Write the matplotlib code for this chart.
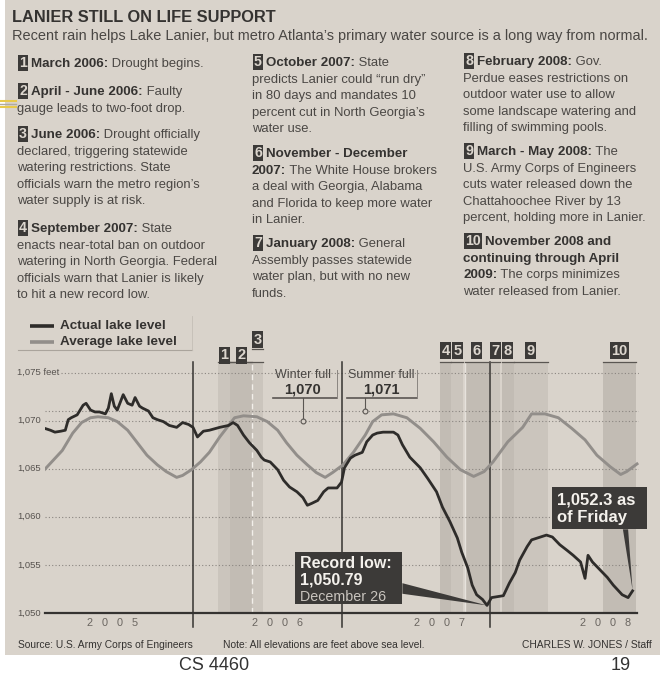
import matplotlib
matplotlib.use('Agg')
import matplotlib.pyplot as plt
from matplotlib.patches import Rectangle, Polygon
from matplotlib import font_manager

# ---------------- data ----------------
actual_years = [2005.00, 2005.04, 2005.07, 2005.11, 2005.14, 2005.16, 2005.18, 2005.22, 2005.24, 2005.26,
                2005.28, 2005.31, 2005.34, 2005.37, 2005.41, 2005.43, 2005.45, 2005.47, 2005.49, 2005.53,
                2005.56, 2005.59, 2005.61, 2005.64, 2005.66, 2005.70, 2005.73, 2005.76, 2005.80, 2005.84,
                2005.89, 2005.93, 2005.97, 2006.00, 2006.03, 2006.07, 2006.11, 2006.18, 2006.24, 2006.27,
                2006.30, 2006.34, 2006.38, 2006.43, 2006.46, 2006.48, 2006.52, 2006.57, 2006.61, 2006.65,
                2006.70, 2006.74, 2006.77, 2006.80, 2006.84, 2006.88, 2006.91, 2006.97, 2007.00, 2007.02,
                2007.06, 2007.09, 2007.14, 2007.17, 2007.21, 2007.24, 2007.28, 2007.35, 2007.38, 2007.41,
                2007.46, 2007.53, 2007.58, 2007.64, 2007.68, 2007.73, 2007.78, 2007.81, 2007.85, 2007.88,
                2007.91, 2007.95, 2007.98, 2008.01, 2008.05, 2008.09, 2008.13, 2008.17, 2008.20, 2008.25,
                2008.28, 2008.34, 2008.38, 2008.42, 2008.47, 2008.52, 2008.56, 2008.61, 2008.64, 2008.66,
                2008.69, 2008.74, 2008.79, 2008.83, 2008.89, 2008.93, 2008.96]
actual_levels = [1069.2, 1069.0, 1068.8, 1068.9, 1069.0, 1070.1, 1070.3, 1070.6, 1071.1, 1071.6,
                 1071.8, 1071.1, 1070.9, 1070.9, 1070.7, 1071.3, 1072.8, 1071.5, 1071.1, 1072.7,
                 1071.8, 1071.6, 1072.4, 1071.5, 1071.3, 1071.0, 1070.3, 1070.1, 1069.9, 1069.5,
                 1069.3, 1069.8, 1069.6, 1069.3, 1068.3, 1068.9, 1069.0, 1069.3, 1069.5, 1069.8,
                 1069.5, 1068.5, 1067.7, 1066.9, 1066.2, 1065.9, 1065.7, 1064.9, 1063.8, 1063.1,
                 1062.6, 1062.0, 1061.2, 1061.4, 1061.7, 1062.6, 1063.0, 1063.0, 1063.6, 1065.1,
                 1066.1, 1066.4, 1066.7, 1067.8, 1068.5, 1068.7, 1068.8, 1068.8, 1068.5, 1067.5,
                 1066.2, 1065.1, 1064.0, 1062.6, 1061.0, 1059.5, 1057.8, 1056.3, 1054.7, 1052.9,
                 1051.9, 1051.4, 1050.79, 1051.6, 1051.7, 1051.8, 1053.1, 1054.2, 1055.5, 1056.9,
                 1057.6, 1057.9, 1058.1, 1057.9, 1057.1, 1056.5, 1056.0, 1055.3, 1053.6, 1056.0,
                 1055.3, 1054.5, 1053.7, 1052.9, 1051.9, 1051.6, 1052.3]

average_years = [2005.00, 2005.06, 2005.12, 2005.19, 2005.25, 2005.31, 2005.36, 2005.43, 2005.49, 2005.56,
                 2005.62, 2005.69, 2005.76, 2005.82, 2005.89, 2005.93, 2005.99, 2006.05, 2006.11, 2006.18,
                 2006.24, 2006.28, 2006.34, 2006.43, 2006.50, 2006.57, 2006.63, 2006.70, 2006.77, 2006.83,
                 2006.89, 2006.94, 2007.01, 2007.08, 2007.16, 2007.21, 2007.27, 2007.35, 2007.44, 2007.53,
                 2007.62, 2007.71, 2007.80, 2007.89, 2007.96, 2008.02, 2008.12, 2008.22, 2008.28, 2008.37,
                 2008.46, 2008.55, 2008.64, 2008.72, 2008.81, 2008.88, 2008.92, 2008.99]
average_levels = [1064.9, 1065.9, 1066.9, 1068.7, 1069.8, 1070.3, 1070.4, 1070.3, 1069.9, 1069.0,
                  1067.8, 1066.4, 1065.4, 1064.7, 1064.1, 1064.3, 1064.9, 1065.7, 1066.7, 1068.3,
                  1069.5, 1070.3, 1070.5, 1070.4, 1069.9, 1069.0, 1067.7, 1066.4, 1065.4, 1064.6,
                  1064.1, 1064.6, 1065.4, 1066.7, 1068.5, 1069.9, 1070.6, 1070.7, 1070.3, 1069.2,
                  1067.8, 1066.2, 1064.9, 1064.2, 1064.7, 1065.7, 1067.8, 1069.3, 1070.7, 1070.7,
                  1070.3, 1069.2, 1068.0, 1066.4, 1065.2, 1064.4, 1064.7, 1065.5]

event_ids = ['1', '2', '3', '4', '5', '6', '7', '8', '9', '10']
event_start = [2006.17, 2006.25, 2006.40, 2007.66, 2007.74, 2007.83, 2008.00, 2008.08, 2008.16, 2008.76]
event_end = [2006.25, 2006.40, 2006.47, 2007.74, 2007.82, 2007.99, 2008.07, 2008.16, 2008.39, 2008.98]

year_labels = ['2   0   0   5', '2   0   0   6', '2   0   0   7', '2   0   0   8']
year_label_pos = [2005.46, 2006.57, 2007.66, 2008.78]
year_dividers = [2006.0, 2007.0, 2008.0]

y_ticks = [1050, 1055, 1060, 1065, 1070, 1075]
y_tick_labels = ['1,050', '1,055', '1,060', '1,065', '1,070', '1,075 feet']
grid_levels = [1055, 1060, 1065, 1070, 1071, 1075]

winter_full = 1070
summer_full = 1071
record_year, record_level = 2007.98, 1050.79
latest_year, latest_level = 2008.96, 1052.3

title = 'LANIER STILL ON LIFE SUPPORT'
subtitle = 'Recent rain helps Lake Lanier, but metro Atlanta\u2019s primary water source is a long way from normal.'

B, R = True, False
timeline = [
    ('1', [[('March 2006:', B), (' Drought begins.', R)]]),
    ('2', [[('April - June 2006:', B), (' Faulty', R)], [('gauge leads to two-foot drop.', R)]]),
    ('3', [[('June 2006:', B), (' Drought officially', R)], [('declared, triggering statewide', R)],
           [('watering restrictions. State', R)], [('officials warn the metro region\u2019s', R)],
           [('water supply is at risk.', R)]]),
    ('4', [[('September 2007:', B), (' State', R)], [('enacts near-total ban on outdoor', R)],
           [('watering in North Georgia. Federal', R)], [('officials warn that Lanier is likely', R)],
           [('to hit a new record low.', R)]]),
    ('5', [[('October 2007:', B), (' State', R)], [('predicts Lanier could \u201crun dry\u201d', R)],
           [('in 80 days and mandates 10', R)], [('percent cut in North Georgia\u2019s', R)],
           [('water use.', R)]]),
    ('6', [[('November - December', B)], [('2007:', B), (' The White House brokers', R)],
           [('a deal with Georgia, Alabama', R)], [('and Florida to keep more water', R)],
           [('in Lanier.', R)]]),
    ('7', [[('January 2008:', B), (' General', R)], [('Assembly passes statewide', R)],
           [('water plan, but with no new', R)], [('funds.', R)]]),
    ('8', [[('February 2008:', B), (' Gov.', R)], [('Perdue eases restrictions on', R)],
           [('outdoor water use to allow', R)], [('some landscape watering and', R)],
           [('filling of swimming pools.', R)]]),
    ('9', [[('March - May 2008:', B), (' The', R)], [('U.S. Army Corps of Engineers', R)],
           [('cuts water released down the', R)], [('Chattahoochee River by 13', R)],
           [('percent, holding more in Lanier.', R)]]),
    ('10', [[('November 2008 and', B)], [('continuing through April', B)],
            [('2009:', B), (' The corps minimizes', R)], [('water released from Lanier.', R)]]),
]
# layout (pixel) positions of each timeline block
timeline_pos = [(17, 62), (17, 90), (17, 133), (17, 227),
                (252, 61), (252, 152), (252, 242),
                (463, 60), (463, 150), (463, 240)]

# ---------------- style ----------------
installed = {f.name for f in font_manager.fontManager.ttflist}
FAMILY = [f for f in ['Liberation Sans Narrow', 'Liberation Sans', 'DejaVu Sans'] if f in installed]
plt.rcParams['font.family'] = FAMILY

PAPER = '#d9d3cb'
INK = '#353331'
BODY = '#4a4744'
BAND_A = '#cbc5bd'
BAND_B = '#c2bcb4'
ACTUAL_C = '#2e2c2a'
AVG_C = '#928e8a'
BOX_C = '#3c3a38'

fig = plt.figure(figsize=(6.6, 6.73), dpi=100)
fig.patch.set_facecolor('white')

# background / page axes in pixel coordinates
bg = fig.add_axes([0, 0, 1, 1])
bg.set_xlim(0, 660)
bg.set_ylim(673, 0)
bg.axis('off')
bg.add_patch(Rectangle((5, 0), 655, 655, fc=PAPER, ec='none', zorder=0))
# little slide-template mark at the left edge
bg.plot([0, 16], [101, 101], color='#e8c94a', lw=1.5, zorder=1)
bg.plot([0, 16], [104, 104], color='#b0aaa0', lw=1.0, zorder=1)
bg.plot([0, 16], [107, 107], color='#e8c94a', lw=1.5, zorder=1)

bg.text(12, 17, title, fontsize=11.8, fontweight='bold', color=INK, va='center', ha='left')
bg.text(12, 36, subtitle, fontsize=10.45, color=BODY, va='center', ha='left')

BODY_FS = 9.35
LINE_H = 16.6
for (badge, lines), (x0, y0) in zip(timeline, timeline_pos):
    bw = 6 if len(badge) == 1 else 10
    bg.text(x0 + bw, y0 + 5, badge, fontsize=BODY_FS + 0.8, fontweight='bold', color='#dcd6ce',
            ha='center', va='baseline',
            bbox=dict(boxstyle='square,pad=0.08', fc=BOX_C, ec='none'))
    for li, segs in enumerate(lines):
        y = y0 + li * LINE_H + 5
        x = x0 + (2 * bw + 2 if li == 0 else 0)
        prev = None
        for txt, bold in segs:
            kw = dict(fontsize=BODY_FS + (0.3 if bold else 0), color=INK if bold else BODY,
                      fontweight='bold' if bold else 'normal')
            if prev is None:
                prev = bg.text(x, y, txt, ha='left', va='baseline', **kw)
            else:
                prev = bg.annotate(txt, xy=(1, 0), xycoords=prev, ha='left', va='bottom', **kw)

# legend
bg.plot([30, 54], [326, 326], color=ACTUAL_C, lw=2.6, solid_capstyle='butt')
bg.plot([30, 54], [342, 342], color=AVG_C, lw=2.6, solid_capstyle='butt')
bg.text(60, 326, 'Actual lake level', fontsize=9.7, fontweight='bold', color=INK, va='center')
bg.text(60, 342, 'Average lake level', fontsize=9.7, fontweight='bold', color=INK, va='center')
bg.plot([18, 192], [350, 350], color='#aaa49c', lw=0.8)
bg.plot([192, 192], [316, 350], color='#c4beb6', lw=0.6)

# footer
bg.text(18, 645, 'Source: U.S. Army Corps of Engineers', fontsize=7.35, color=INK, va='center')
bg.text(223, 645, 'Note: All elevations are feet above sea level.', fontsize=7.35, color=INK, va='center')
bg.text(652, 645, 'CHARLES W. JONES / Staff', fontsize=7.35, color=INK, va='center', ha='right')
bg.text(214, 665, 'CS 4460', fontsize=13, color='#333333', va='center', ha='center')
bg.text(621, 665, '19', fontsize=13, color='#333333', va='center', ha='center')

# ---------------- chart ----------------
ax = fig.add_axes([44.5 / 660, 60 / 673, 594 / 660, 250.1 / 673])
ax.set_facecolor('none')
ax.set_xlim(2005, 2009)
ax.set_ylim(1050, 1076)
for s in ax.spines.values():
    s.set_visible(False)
ax.set_xticks([])
ax.set_yticks([])

# event bands
for i, (eid, s, e) in enumerate(zip(event_ids, event_start, event_end)):
    ax.axvspan(s, e, color=BAND_A if i % 2 == 0 else BAND_B, lw=0, zorder=1)
ax.axvline(event_start[2], color='#f2efea', lw=1.0, ls=(0, (4, 3)), zorder=1.5)
ax.axvline(event_start[5], color='#e6e2dc', lw=1.0, zorder=1.5)

# gridlines
for g in grid_levels:
    x_from = 2005.11 if g == 1075 else 2005.0
    ax.plot([x_from, 2009], [g, g], color='#8a8580', lw=0.8, ls=(0, (1, 2)), zorder=2)
ax.plot([2005.0, 2008.99], [1050, 1050], color=INK, lw=1.6, zorder=4, clip_on=False)

# y tick labels
for v, lab in zip(y_ticks, y_tick_labels):
    ax.text(-27.5 / 148.5 + 2005, v, lab, fontsize=6.8, color='#57534f', va='center', ha='left',
            clip_on=False)

# year dividers & labels
for yd in year_dividers:
    ax.plot([yd, yd], [1048.5, 1076.1], color=INK, lw=1.1, zorder=3, clip_on=False)
for pos, lab in zip(year_label_pos, year_labels):
    ax.text(pos, 1048.95, lab, fontsize=7.8, color='#6a6560', ha='center', va='center', clip_on=False)

# event label boxes + brackets
for i, (eid, s, e) in enumerate(zip(event_ids, event_start, event_end)):
    c = (s + e) / 2
    if eid == '3':
        ly, by = 1078.4, 1077.45
    elif eid in ('1', '2'):
        ly, by = 1076.8, 1076.05
    else:
        ly, by = 1077.25, 1076.05
    ax.text(c, ly, eid, fontsize=10.5, fontweight='bold', color='#dcd6ce', ha='center', va='center',
            bbox=dict(boxstyle='square,pad=0.1', fc=BOX_C, ec='none'), clip_on=False, zorder=6)
    ax.plot([s, e], [by, by], color='#5a5652', lw=0.9, clip_on=False, zorder=5)
# bracket of event 2 spans through June
ax.plot([event_start[1], event_end[2]], [1076.05, 1076.05], color='#5a5652', lw=0.9, clip_on=False)

# lines
ax.plot(average_years, average_levels, color=AVG_C, lw=2.1, zorder=4, solid_joinstyle='round')
ax.plot(actual_years, actual_levels, color=ACTUAL_C, lw=2.0, zorder=5, solid_joinstyle='round')

# winter / summer full callouts
def full_callout(xtext, xstem, x_left, x_right, level, title_txt, val_txt):
    ax.text(xtext, 1074.7, title_txt, fontsize=9.0, color=BODY, ha='center', va='center', zorder=7)
    ax.text(xtext, 1073.25, val_txt, fontsize=10.5, fontweight='bold', color=INK, ha='center',
            va='center', zorder=7)
    ax.plot([x_left, x_right], [1072.4, 1072.4], color='#5a5652', lw=1.2, zorder=7)
    ax.plot([x_right, x_right], [1072.4, 1075.3], color='#8a8580', lw=0.7, zorder=7)
    ax.plot([xstem, xstem], [1072.4, level + 0.15], color='#5a5652', lw=0.8, zorder=7)
    ax.plot([xstem], [level], marker='o', ms=3.5, mfc=PAPER, mec='#5a5652', mew=0.8, zorder=8)

full_callout(2006.74, 2006.74, 2006.54, 2006.97, winter_full, 'Winter full', '1,070')
full_callout(2007.27, 2007.16, 2007.04, 2007.51, summer_full, 'Summer full', '1,071')

# record low callout
rx0, rx1, ry0, ry1 = 2006.69, 2007.41, 1050.9, 1056.3
ax.add_patch(Rectangle((rx0, ry0), rx1 - rx0, ry1 - ry0, fc=BOX_C, ec='none', zorder=8))
ax.add_patch(Polygon([(rx1, 1053.1), (rx1, 1052.0), (record_year, record_level)], closed=True,
                     fc=BOX_C, ec='none', zorder=8))
ax.text(rx0 + 0.03, 1055.15, 'Record low:', fontsize=11.5, fontweight='bold', color='#f4f1ec',
        va='center', zorder=9)
ax.text(rx0 + 0.03, 1053.4, '{:,.2f}'.format(record_level), fontsize=11.5, fontweight='bold',
        color='#f4f1ec', va='center', zorder=9)
ax.text(rx0 + 0.03, 1051.7, 'December 26', fontsize=10.3, color='#c9c4be', va='center', zorder=9)

# latest level callout
fx0, fx1, fy0, fy1 = 2008.42, 2009.055, 1058.7, 1063.1
ax.add_patch(Rectangle((fx0, fy0), fx1 - fx0, fy1 - fy0, fc=BOX_C, ec='none', zorder=8, clip_on=False))
ax.add_patch(Polygon([(2008.895, fy0), (2008.93, fy0), (latest_year, latest_level + 0.1)], closed=True,
                     fc=BOX_C, ec='none', zorder=8))
ax.text(fx0 + 0.03, 1061.75, '{:,.1f} as'.format(latest_level), fontsize=12, fontweight='bold',
        color='#f4f1ec', va='center', zorder=9, clip_on=False)
ax.text(fx0 + 0.03, 1059.95, 'of Friday', fontsize=12, fontweight='bold', color='#f4f1ec',
        va='center', zorder=9, clip_on=False)

fig.savefig('out.png', dpi=100, facecolor=fig.get_facecolor())
